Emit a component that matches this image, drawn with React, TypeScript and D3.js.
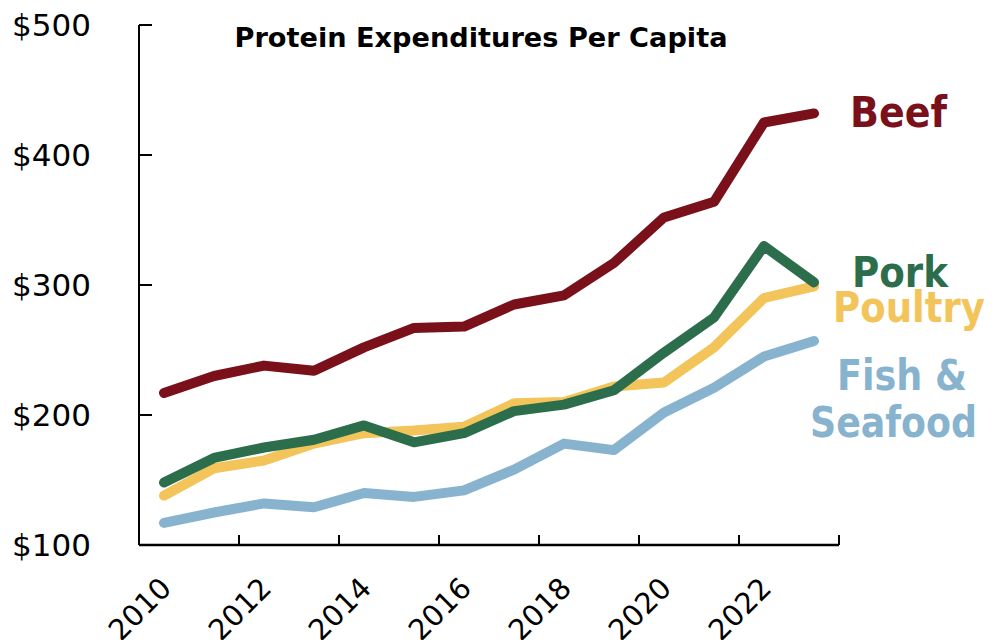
import React from "react"
import * as d3 from "d3"

const years = [2010, 2011, 2012, 2013, 2014, 2015, 2016, 2017, 2018, 2019, 2020, 2021, 2022, 2023]
const beef = [217, 230, 238, 234, 252, 267, 268, 285, 292, 317, 352, 364, 425, 432]
const pork = [148, 167, 175, 181, 192, 179, 186, 203, 208, 219, 248, 275, 330, 302]
const poultry = [138, 159, 165, 178, 186, 188, 191, 209, 210, 222, 225, 252, 290, 299]
const fish = [117, 125, 132, 129, 140, 137, 142, 158, 178, 173, 202, 221, 245, 257]
const yTicks = [100, 200, 300, 400, 500]
const xTickYears = [2010, 2012, 2014, 2016, 2018, 2020, 2022]

const width = 1000
const height = 640
const margin = {top: 25, bottom: 95, left: 139, right: 161}

const series = [
    {name: "fish", values: fish, color: "#87b3cf"},
    {name: "poultry", values: poultry, color: "#f2c459"},
    {name: "pork", values: pork, color: "#2c6e4c"},
    {name: "beef", values: beef, color: "#7a1019"},
]

// end labels; w = measured width of the word in the original
const labels = [
    {text: "Beef", x: 850, y: 127, w: 97, color: "#7a1019"},
    {text: "Pork", x: 852, y: 287, w: 96, color: "#2c6e4c"},
    {text: "Poultry", x: 833, y: 322, w: 152, color: "#f2c459"},
    {text: "Fish &", x: 837, y: 390, w: 130, color: "#87b3cf"},
    {text: "Seafood", x: 810, y: 437, w: 167, color: "#87b3cf"},
]

const App = () => {
    const x = d3.scaleBand<number>()
        .domain(years)
        .range([margin.left, width - margin.right])
    const y = d3.scaleLinear()
        .domain([100, 500])
        .range([height - margin.bottom, margin.top])
    const bw = x.bandwidth()

    const line = d3.line<number>()
        .x((d, i) => (x(years[i]) as number) + bw / 2)
        .y(d => y(d))

    const x0 = margin.left
    const x1 = width - margin.right
    const yBase = height - margin.bottom
    const font = "'DejaVu Sans', Verdana, sans-serif"

    return (
        <svg width={width} height={height} style={{position: "absolute", left: 0, top: 0}} fontFamily={font}>
            <rect width={width} height={height} fill="#fff"/>

            {/* y axis */}
            <line x1={x0} x2={x0} y1={margin.top} y2={yBase} stroke="#000" strokeWidth={2}/>
            {yTicks.map(t => (
                <g key={t}>
                    <line x1={x0} x2={x0 + 13} y1={y(t)} y2={y(t)} stroke="#000" strokeWidth={2}/>
                    <text x={91} y={y(t)} dy="0.36em" textAnchor="end" fontSize={31}>${t}</text>
                </g>
            ))}

            {/* x axis */}
            <line x1={x0} x2={x1} y1={yBase} y2={yBase} stroke="#000" strokeWidth={2.5}/>
            {[...xTickYears.map(t => x(t) as number), x1].map((px, i) => (
                <line key={i} x1={px} x2={px} y1={yBase} y2={yBase - 10} stroke="#000" strokeWidth={2}/>
            ))}
            {xTickYears.map(t => (
                <text key={t} textAnchor="end" fontSize={29}
                      transform={`translate(${(x(t) as number) + bw / 2 + 9}, 590) rotate(-45)`}>{t}</text>
            ))}

            {/* lines */}
            {series.map(s => (
                <path key={s.name} d={line(s.values) as string} fill="none" stroke={s.color}
                      strokeWidth={10} strokeLinecap="round" strokeLinejoin="round"/>
            ))}

            {/* title */}
            <text x={481} y={47} textAnchor="middle" fontSize={26} fontWeight="bold"
                  textLength={493} lengthAdjust="spacingAndGlyphs">Protein Expenditures Per Capita</text>

            {/* series labels */}
            {labels.map(l => (
                <text key={l.text} x={l.x} y={l.y} fontSize={43} fontWeight="bold" fill={l.color}
                      textLength={l.w} lengthAdjust="spacingAndGlyphs">{l.text}</text>
            ))}
        </svg>
    )
}

export default App
